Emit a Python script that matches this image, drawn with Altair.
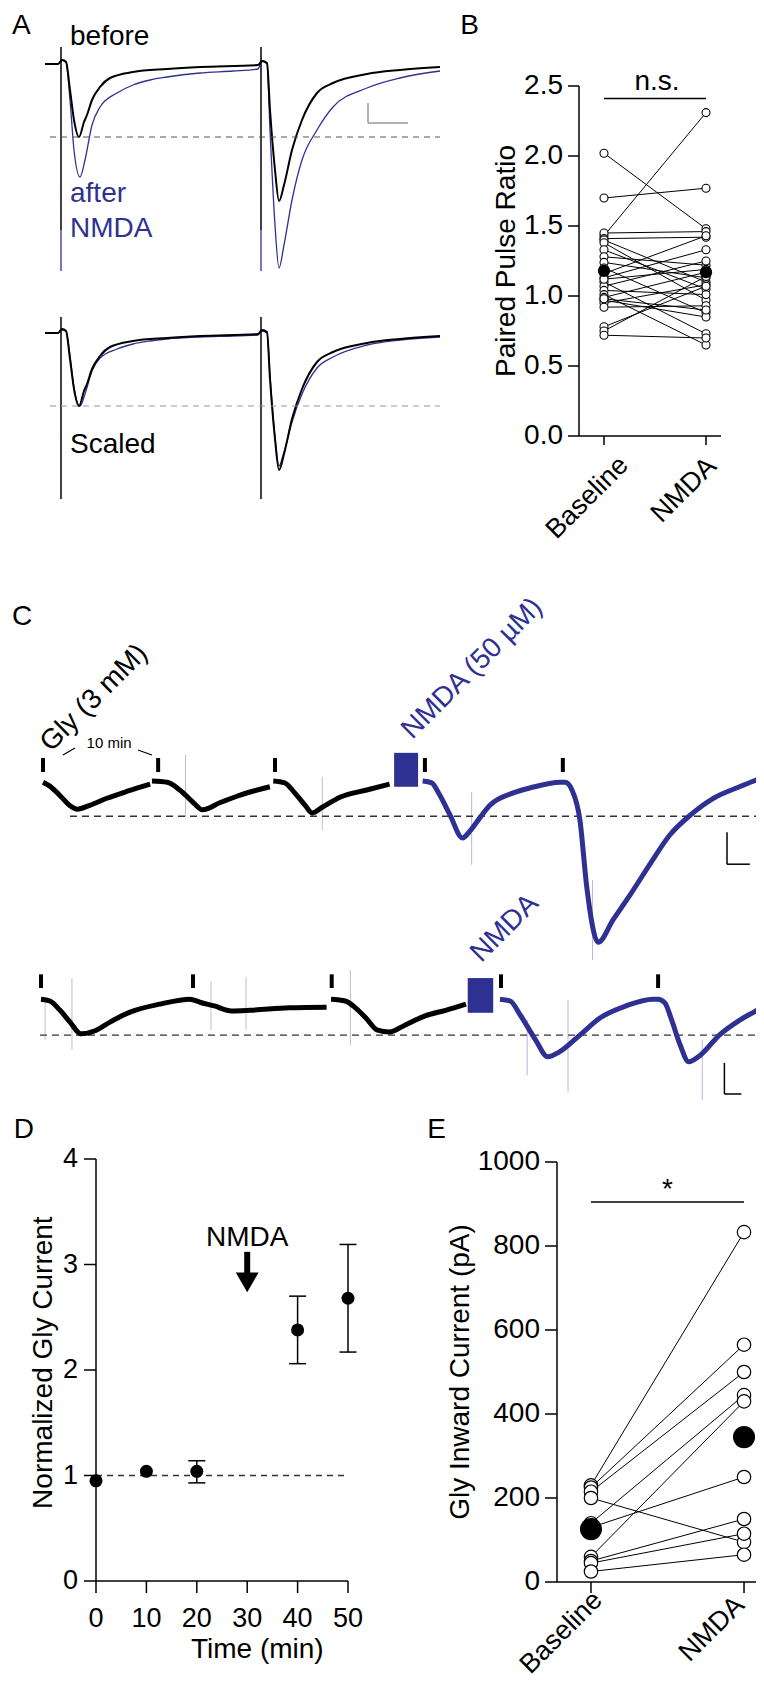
import altair as alt
import pandas as pd

FONT = "Liberation Sans"
BLUE = "#2e3192"
LBLUE = "#a3a6d6"
GRAY = "#b0b0b0"
FS = 28

# ================= A : evoked currents (time in ms, current in pA) =================
a_black_t = [-4, -0.75, 0.25, 1.25, 2.25, 3.25, 4.5, 5.75, 6.5, 7.75, 9.75, 12.25, 18, 26.5, 34.75, 49.25,
             50.25, 51.5, 52.25, 53.5, 54.5, 55.75, 57.75, 60.25, 64, 68, 76.5, 84.75, 94.75]
a_black_i = [-1, -1, 3, 1, -27, -57, -74, -59, -52, -37, -24, -15, -9, -6, -4, -2,
             2, 0, -47, -107, -138, -122, -87, -57, -30, -20, -11, -7, -4]
a_blue_t = [-4, -0.75, 0.25, 1.25, 2.25, 3.25, 4.75, 6, 7.75, 9.75, 14, 18, 22.25, 26.5, 34.75, 43, 49.25,
            50.25, 51.5, 52.25, 53.5, 54.5, 55.75, 57.75, 60.25, 64, 68, 76.5, 84.75, 94.75]
a_blue_i = [-1, -1, 3, 1, -37, -87, -114, -97, -62, -44, -30, -22, -17, -14, -10, -8, -6,
            2, -1, -67, -162, -205, -182, -137, -97, -67, -44, -25, -15, -8]
a_blue_scaled_i = [-1, -1, 2, 1, -24, -56, -74, -62, -39, -26, -17, -12, -9, -7, -5, -4, -3,
                   1, -1, -43, -105, -134, -120, -90, -62, -36, -25, -13, -8, -5]
a_stim_t = [0, 50]

# ================= B : paired pulse ratio =================
b_cond = ["Baseline", "NMDA"]
b_base = [2.02, 1.70, 1.43, 1.45, 1.41, 1.40, 1.38, 1.33, 1.28, 1.24, 1.20, 1.16, 1.13,
          1.10, 1.07, 1.04, 1.01, 0.99, 0.97, 0.95, 0.92, 0.78, 0.75, 0.72, 1.12, 0.98]
b_nmda = [1.48, 1.77, 2.31, 1.46, 1.42, 1.10, 0.97, 1.05, 1.22, 1.13, 0.88, 1.43, 1.33,
          0.73, 1.25, 1.01, 0.65, 1.17, 0.85, 1.08, 0.93, 1.07, 1.14, 0.70, 1.19, 0.90]
b_mean = [1.18, 1.17]
b_ticks = [0, 0.5, 1.0, 1.5, 2.0, 2.5]

# ================= C : glycine currents (time in min, current in pA) =================
ct_black_t = [0, 0.6, 1.5, 2.4, 3.0, 4.1, 5.6, 7.4, 9.4,
              9.56, 10.9, 12.0, 13.2, 14.0, 15.5, 17.3, 19.9,
              20.2, 21.2, 22.1, 23.0, 23.6, 24.5, 26.1, 28.4, 30.4]
ct_black_i = [-2, -8, -23, -39, -44, -38, -27, -16, -5,
              0, -2, -14, -34, -45, -34, -22, -9,
              0, -3, -19, -38, -50, -41, -25, -14, -5]
ct_black_seg = [1] * 9 + [2] * 8 + [3] * 9
ct_blue_t = [33.3, 34.1, 34.8, 35.7, 36.8, 37.5, 38.3, 39.2, 41.2, 42.7, 45.4, 45.8, 46.4, 47.1,
             47.7, 48.7, 50.0, 51.5, 53.2, 55.0, 56.8, 58.8, 61.1, 63.2]
ct_blue_i = [0, -3, -22, -53, -89, -77, -58, -38, -19, -11, -2, -2, -14, -61,
             -166, -252, -217, -178, -131, -84, -53, -27, -9, 6]
ct_marks = [0, 10.1, 20.35, 33.5, 45.6]
ct_nmda_block = [30.8, 32.9]

cb_black_t = [0, 0.53, 1.12, 1.71, 2.35, 3.18, 4.06, 5.24, 7.0, 8.76, 9.35, 10.2, 11.2, 12.3, 14.6, 16.8,
              17.06, 17.9, 18.5, 19.1, 19.8, 20.5, 21.4, 22.6, 23.8, 25.0]
cb_black_i = [3, 0, -15, -34, -53, -48, -34, -18, -5, 3, -2, -8, -16, -15, -11, -10,
              3, 0, -11, -27, -47, -50, -39, -24, -15, -5]
cb_black_seg = [1] * 16 + [2] * 10
cb_blue_t = [27.0, 27.6, 28.2, 29.1, 29.8, 30.5, 31.7, 32.9, 34.4, 36.0, 36.3, 36.7, 37.1, 37.6,
             38.1, 38.8, 39.9, 41.1, 42.1, 42.5]
cb_blue_i = [3, 0, -23, -63, -90, -82, -55, -27, -8, 3, 3, -3, -31, -71, -98, -87, -55, -31, -15, -8]
cb_marks = [0, 8.94, 17.1, 27.06, 36.3]
cb_nmda_block = [25.1, 26.6]

# ================= D : normalized glycine current =================
d_time = [0, 10, 20, 40, 50]
d_mean = [0.95, 1.04, 1.04, 2.38, 2.68]
d_lo = [0.95, 1.04, 0.93, 2.06, 2.17]
d_hi = [0.95, 1.04, 1.14, 2.70, 3.19]
d_xticks = [0, 10, 20, 30, 40, 50]
d_yticks = [0, 1, 2, 3, 4]

# ================= E : glycine inward current =================
e_base = [230, 225, 215, 200, 140, 130, 60, 50, 45, 25]
e_nmda = [833, 565, 500, 95, 445, 250, 430, 150, 115, 65]
e_mean = [126, 345]
e_yticks = [0, 200, 400, 600, 800, 1000]


def L(domain, rng):
    return alt.Scale(domain=domain, range=rng, nice=False, zero=False)


def XQ(f, sc):
    return alt.X(f, type="quantitative", scale=sc, axis=None)


def YQ(f, sc):
    return alt.Y(f, type="quantitative", scale=sc, axis=None)


def lines(df, xs, ys, color, width, detail=None, interp="monotone"):
    enc = dict(x=XQ("t", xs), y=YQ("v", ys))
    if detail:
        enc["detail"] = alt.Detail(detail, type="nominal")
    return alt.Chart(df).mark_line(color=color, strokeWidth=width, interpolate=interp).encode(**enc)


def vrules(df, xs, ys, color, width):
    return alt.Chart(df).mark_rule(color=color, strokeWidth=width).encode(
        x=XQ("t", xs), y=YQ("y1", ys), y2=alt.Y2("y2"))


def hrule(df, xs, ys, color, width, dash=None):
    mk = dict(color=color, strokeWidth=width)
    if dash:
        mk["strokeDash"] = dash
    return alt.Chart(df).mark_rule(**mk).encode(x=XQ("x1", xs), x2=alt.X2("x2"), y=YQ("v", ys))


def texts(df, xs, ys, color="black", size=FS, align="left", angle=0, baseline="alphabetic",
          xoff=0, yoff=0):
    return alt.Chart(df).mark_text(color=color, fontSize=size, font=FONT, align=align,
                                   baseline=baseline, angle=angle, xOffset=xoff, yOffset=yoff).encode(
        x=XQ("t", xs), y=YQ("v", ys), text="label:N")


def y_axis(xs, ys, x0, vmin, vmax, ticks, labels, tick_len, pad, fs):
    df = pd.DataFrame({"x0": [x0] * len(ticks), "v": ticks, "label": labels})
    return [
        vrules(pd.DataFrame({"t": [x0], "y1": [vmin], "y2": [vmax]}), xs, ys, "black", 1.5),
        alt.Chart(df).mark_rule(color="black", strokeWidth=1.5, xOffset=-tick_len).encode(
            x=XQ("x0", xs), x2="x0", y=YQ("v", ys)),
        alt.Chart(df).mark_text(font=FONT, fontSize=fs, align="right", baseline="middle", color="black",
                                xOffset=-(tick_len + pad)).encode(
            x=XQ("x0", xs), y=YQ("v", ys), text="label:N"),
    ]


def x_axis(xs, ys, y0, vmin, vmax, ticks, tick_len):
    df = pd.DataFrame({"t": ticks, "y0": [y0] * len(ticks)})
    return [
        hrule(pd.DataFrame({"x1": [vmin], "x2": [vmax], "v": [y0]}), xs, ys, "black", 1.5),
        alt.Chart(df).mark_rule(color="black", strokeWidth=1.5, y2Offset=tick_len).encode(
            x=XQ("t", xs), y=YQ("y0", ys), y2="y0"),
    ]


def rotated_labels(xs, ys, y0, cats, offsets, fs=27):
    out = []
    for k, (name, (dx, dy)) in enumerate(zip(cats, offsets)):
        out.append(texts(pd.DataFrame({"t": [k], "v": [y0], "label": [name]}), xs, ys, size=fs,
                         align="right", angle=315, baseline="middle", xoff=dx, yoff=dy))
    return out


def ytitle(xs, ys, x0, v, label, xoff):
    return texts(pd.DataFrame({"t": [x0], "v": [v], "label": [label]}), xs, ys, align="center",
                 angle=270, baseline="alphabetic", xoff=xoff)


# ---------------- Panel A ----------------
A_X = L([-5, 95], [33, 433])
A_YT = L([-230, 20], [285, 35])
A_YB = L([-230, 20], [554, 304])

df_ab = pd.DataFrame({"t": a_black_t, "v": a_black_i})
df_au = pd.DataFrame({"t": a_blue_t, "v": a_blue_i})
df_aus = pd.DataFrame({"t": a_blue_t, "v": a_blue_scaled_i})

panel_a_top = alt.layer(
    lines(df_au, A_X, A_YT, BLUE, 1.3),
    lines(df_ab, A_X, A_YT, "black", 2.0),
    vrules(pd.DataFrame({"t": a_stim_t, "y1": [16, 16], "y2": [-167, -167]}), A_X, A_YT, "black", 1.5),
    vrules(pd.DataFrame({"t": a_stim_t, "y1": [-167, -167], "y2": [-208, -208]}), A_X, A_YT, BLUE, 1.3),
    hrule(pd.DataFrame({"x1": [-2.75], "x2": [94.75], "v": [-74]}), A_X, A_YT, "#555555", 1.2, [6, 5]),
    vrules(pd.DataFrame({"t": [76.75], "y1": [-40], "y2": [-60]}), A_X, A_YT, "#999999", 1.5),
    hrule(pd.DataFrame({"x1": [76.75], "x2": [86.75], "v": [-60]}), A_X, A_YT, "#999999", 1.5),
    texts(pd.DataFrame({"t": [2.25], "v": [18], "label": ["before"]}), A_X, A_YT),
    texts(pd.DataFrame({"t": [2.25, 2.25], "v": [-139, -174], "label": ["after", "NMDA"]}), A_X, A_YT, BLUE),
    texts(pd.DataFrame({"t": [-12.25], "v": [29], "label": ["A"]}), A_X, A_YT, size=28),
)

panel_a_bot = alt.layer(
    lines(df_aus, A_X, A_YB, BLUE, 1.3),
    lines(df_ab, A_X, A_YB, "black", 2.0),
    vrules(pd.DataFrame({"t": a_stim_t, "y1": [15, 15], "y2": [-167, -167]}), A_X, A_YB, "black", 1.5),
    hrule(pd.DataFrame({"x1": [-2.75], "x2": [94.75], "v": [-74]}), A_X, A_YB, "#9a9a9a", 1.2, [6, 5]),
    texts(pd.DataFrame({"t": [2.25], "v": [-121], "label": ["Scaled"]}), A_X, A_YB),
)

# ---------------- Panel B ----------------
B_X = L([-0.245, 1.147], [571, 713])
B_Y = L([0, 2.5], [428, 78])
b_rows = []
for k, (u, w) in enumerate(zip(b_base, b_nmda)):
    b_rows += [dict(pair=k, t=0, v=u), dict(pair=k, t=1, v=w)]
df_b = pd.DataFrame(b_rows)
df_bm = pd.DataFrame({"t": [0, 1], "v": b_mean})

panel_b = alt.layer(
    *y_axis(B_X, B_Y, -0.245, 0, 2.5, b_ticks, [f"{v:.1f}" for v in b_ticks], 11, 5, FS),
    *x_axis(B_X, B_Y, 0, -0.245, 1.147, [0, 1], 9),
    *rotated_labels(B_X, B_Y, 0, b_cond, [(20, 25), (6, 26)]),
    ytitle(B_X, B_Y, -0.245, 1.25, "Paired Pulse Ratio", -64),
    alt.Chart(df_b).mark_line(color="black", strokeWidth=1).encode(
        x=XQ("t", B_X), y=YQ("v", B_Y), detail="pair:N"),
    alt.Chart(df_b).mark_point(shape="circle", size=64, fill="white", fillOpacity=1, stroke="black",
                               strokeWidth=1.1, opacity=1).encode(x=XQ("t", B_X), y=YQ("v", B_Y)),
    alt.Chart(df_bm).mark_point(shape="circle", size=150, filled=True, color="black", opacity=1).encode(
        x=XQ("t", B_X), y=YQ("v", B_Y)),
    hrule(pd.DataFrame({"x1": [0], "x2": [1], "v": [2.41]}), B_X, B_Y, "black", 1.5),
    texts(pd.DataFrame({"t": [0.52], "v": [2.47], "label": ["n.s."]}), B_X, B_Y, align="center"),
    texts(pd.DataFrame({"t": [-1.41], "v": [2.87], "label": ["B"]}), B_X, B_Y, size=28),
)

# ---------------- Panel C (top) ----------------
C1_X = L([0, 60], [35, 719])
C1_Y = L([-300, 100], [965, 709])
df_ctk = pd.DataFrame({"t": ct_black_t, "v": ct_black_i, "seg": ct_black_seg})
df_ctu = pd.DataFrame({"t": ct_blue_t, "v": ct_blue_i})
df_brace = pd.DataFrame({"t": [1.75, 2.81, 8.33, 9.56], "v": [40.6, 51.6, 48.4, 40.6], "seg": [1, 1, 2, 2]})

panel_c1 = alt.layer(
    vrules(pd.DataFrame({"t": [12.5, 24.5], "y1": [41, 6], "y2": [-56, -77]}), C1_X, C1_Y, GRAY, 0.8),
    vrules(pd.DataFrame({"t": [37.6, 48.2], "y1": [-17, -155], "y2": [-131, -280]}), C1_X, C1_Y, LBLUE, 0.8),
    hrule(pd.DataFrame({"x1": [2.37], "x2": [63.3], "v": [-55]}), C1_X, C1_Y, "#333333", 1.4, [7, 5]),
    lines(df_ctk, C1_X, C1_Y, "black", 5, detail="seg"),
    lines(df_ctu, C1_X, C1_Y, BLUE, 5),
    vrules(pd.DataFrame({"t": ct_marks, "y1": [36] * 5, "y2": [14] * 5}), C1_X, C1_Y, "black", 4),
    alt.Chart(pd.DataFrame({"x1": [ct_nmda_block[0]], "x2": [ct_nmda_block[1]], "y1": [44], "y2": [-9]}))
    .mark_rect(color=BLUE).encode(x=XQ("x1", C1_X), x2="x2", y=YQ("y1", C1_Y), y2="y2"),
    vrules(pd.DataFrame({"t": [60], "y1": [-80], "y2": [-130]}), C1_X, C1_Y, "black", 1.5),
    hrule(pd.DataFrame({"x1": [60], "x2": [62], "v": [-130]}), C1_X, C1_Y, "black", 1.5),
    lines(df_brace, C1_X, C1_Y, "black", 1.2, detail="seg", interp="linear"),
    texts(pd.DataFrame({"t": [0.7], "v": [44], "label": ["Gly (3 mM)"]}), C1_X, C1_Y, angle=315),
    texts(pd.DataFrame({"t": [32.4], "v": [64], "label": ["NMDA (50 µM)"]}), C1_X, C1_Y, BLUE, angle=315),
    texts(pd.DataFrame({"t": [5.8], "v": [52], "label": ["10 min"]}), C1_X, C1_Y, size=15, align="center"),
    texts(pd.DataFrame({"t": [-2.72], "v": [244], "label": ["C"]}), C1_X, C1_Y, size=28),
)

# ---------------- Panel C (bottom) ----------------
C2_X = L([0, 40], [33, 713])
C2_Y = L([-150, 150], [1086, 900])
df_cbk = pd.DataFrame({"t": cb_black_t, "v": cb_black_i, "seg": cb_black_seg})
df_cbu = pd.DataFrame({"t": cb_blue_t, "v": cb_blue_i})

panel_c2 = alt.layer(
    vrules(pd.DataFrame({"t": [0.24, 1.82, 10.0, 12.06, 18.2], "y1": [2, 37, 32, 39, 50],
                         "y2": [-63, -79, -47, -47, -71]}), C2_X, C2_Y, GRAY, 0.8),
    vrules(pd.DataFrame({"t": [28.6, 31.0, 38.9], "y1": [-30, 2, -63], "y2": [-120, -147, -160]}),
           C2_X, C2_Y, LBLUE, 0.8),
    hrule(pd.DataFrame({"x1": [-0.06], "x2": [42.5], "v": [-55]}), C2_X, C2_Y, "#333333", 1.4, [7, 5]),
    lines(df_cbk, C2_X, C2_Y, "black", 5, detail="seg"),
    lines(df_cbu, C2_X, C2_Y, BLUE, 5),
    vrules(pd.DataFrame({"t": cb_marks, "y1": [43] * 5, "y2": [21] * 5}), C2_X, C2_Y, "black", 4),
    alt.Chart(pd.DataFrame({"x1": [cb_nmda_block[0]], "x2": [cb_nmda_block[1]], "y1": [37], "y2": [-19]}))
    .mark_rect(color=BLUE).encode(x=XQ("x1", C2_X), x2="x2", y=YQ("y1", C2_Y), y2="y2"),
    vrules(pd.DataFrame({"t": [40.2], "y1": [-100], "y2": [-150]}), C2_X, C2_Y, "black", 1.5),
    hrule(pd.DataFrame({"x1": [40.2], "x2": [41.2], "v": [-150]}), C2_X, C2_Y, "black", 1.5),
    texts(pd.DataFrame({"t": [25.9], "v": [61], "label": ["NMDA"]}), C2_X, C2_Y, BLUE, angle=315),
)

# ---------------- Panel D ----------------
D_X = L([0, 50], [88, 340])
D_Y = L([0, 4], [1573, 1151])
df_d = pd.DataFrame({"t": d_time, "v": d_mean, "lo": d_lo, "hi": d_hi})
df_dx = pd.DataFrame({"t": d_xticks, "v": [0] * len(d_xticks), "label": [str(v) for v in d_xticks]})

panel_d = alt.layer(
    *y_axis(D_X, D_Y, 0, 0, 4, d_yticks, [str(v) for v in d_yticks], 12, 6, 27),
    *x_axis(D_X, D_Y, 0, 0, 50, d_xticks, 12),
    texts(df_dx, D_X, D_Y, size=27, align="center", yoff=46),
    texts(pd.DataFrame({"t": [32], "v": [0], "label": ["Time (min)"]}), D_X, D_Y, align="center", yoff=77),
    ytitle(D_X, D_Y, 0, 2.07, "Normalized Gly Current", -44),
    hrule(pd.DataFrame({"x1": [0], "x2": [50], "v": [1.0]}), D_X, D_Y, "#333333", 1.3, [6, 5]),
    alt.Chart(df_d).transform_filter("datum.hi > datum.lo").mark_rule(color="black", strokeWidth=1.5).encode(
        x=XQ("t", D_X), y=YQ("lo", D_Y), y2="hi"),
    alt.Chart(df_d).transform_filter("datum.hi > datum.lo").mark_point(
        shape="stroke", size=289, color="black", strokeWidth=1.5, opacity=1).encode(
        x=XQ("t", D_X), y=YQ("lo", D_Y)),
    alt.Chart(df_d).transform_filter("datum.hi > datum.lo").mark_point(
        shape="stroke", size=289, color="black", strokeWidth=1.5, opacity=1).encode(
        x=XQ("t", D_X), y=YQ("hi", D_Y)),
    alt.Chart(df_d).mark_point(shape="circle", size=170, filled=True, color="black", opacity=1).encode(
        x=XQ("t", D_X), y=YQ("v", D_Y)),
    texts(pd.DataFrame({"t": [30], "v": [3.18], "label": ["NMDA"]}), D_X, D_Y, align="center"),
    vrules(pd.DataFrame({"t": [30], "y1": [3.12], "y2": [2.88]}), D_X, D_Y, "black", 6),
    alt.Chart(pd.DataFrame({"t": [30], "v": [2.83]})).mark_point(
        shape="triangle-down", size=520, filled=True, color="black", opacity=1).encode(
        x=XQ("t", D_X), y=YQ("v", D_Y)),
    texts(pd.DataFrame({"t": [-16.3], "v": [4.2], "label": ["D"]}), D_X, D_Y, size=28),
)

# ---------------- Panel E ----------------
E_X = L([-0.222, 1.124], [549, 755])
E_Y = L([0, 1000], [1574, 1154])
e_rows = []
for k, (u, w) in enumerate(zip(e_base, e_nmda)):
    e_rows += [dict(pair=k, t=0, v=u), dict(pair=k, t=1, v=w)]
df_e = pd.DataFrame(e_rows)
df_em = pd.DataFrame({"t": [0, 1], "v": e_mean})

panel_e = alt.layer(
    *y_axis(E_X, E_Y, -0.222, 0, 1000, e_yticks, [str(v) for v in e_yticks], 12, 5, FS),
    *x_axis(E_X, E_Y, 0, -0.222, 1.124, [0, 1], 11),
    *rotated_labels(E_X, E_Y, 0, b_cond, [(7, 14), (-4, 19)]),
    ytitle(E_X, E_Y, -0.222, 500, "Gly Inward Current (pA)", -88),
    alt.Chart(df_e).mark_line(color="black", strokeWidth=1).encode(
        x=XQ("t", E_X), y=YQ("v", E_Y), detail="pair:N"),
    alt.Chart(df_e).mark_point(shape="circle", size=180, fill="white", fillOpacity=1, stroke="black",
                               strokeWidth=1.2, opacity=1).encode(x=XQ("t", E_X), y=YQ("v", E_Y)),
    alt.Chart(df_em).mark_point(shape="circle", size=490, filled=True, color="black", opacity=1).encode(
        x=XQ("t", E_X), y=YQ("v", E_Y)),
    hrule(pd.DataFrame({"x1": [0], "x2": [1], "v": [905]}), E_X, E_Y, "black", 1.5),
    texts(pd.DataFrame({"t": [0.5], "v": [914], "label": ["*"]}), E_X, E_Y, align="center"),
    texts(pd.DataFrame({"t": [-1.07], "v": [1057], "label": ["E"]}), E_X, E_Y, size=28),
)

chart = (
    alt.layer(panel_a_top, panel_a_bot, panel_b, panel_c1, panel_c2, panel_d, panel_e)
    .resolve_scale(x="independent", y="independent")
    .properties(width=748, height=1670, autosize=alt.AutoSizeParams(type="none"), padding=0)
    .configure_view(stroke=None)
    .configure_text(font=FONT)
)

chart.save("out.html", embed_options={"renderer": "svg", "actions": False})
